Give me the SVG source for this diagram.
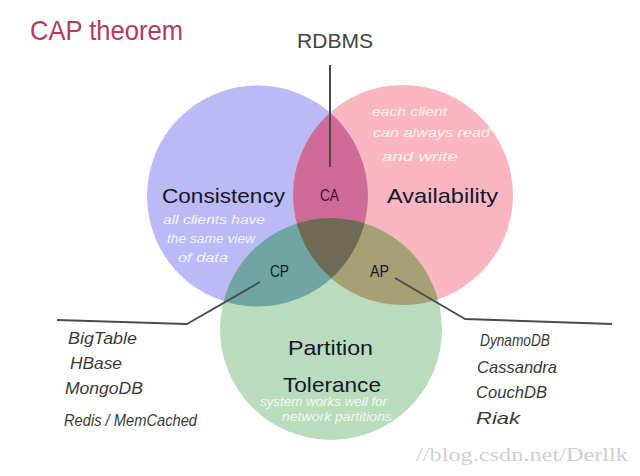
<svg xmlns="http://www.w3.org/2000/svg" width="640" height="476" viewBox="0 0 640 476">
<defs>
<style>
.lbl{font-family:"Liberation Sans","Noto Sans",sans-serif;fill:#161628;}
.big{font-size:21px;}
.sm{font-size:17px;}
.hw{font-family:"Liberation Sans","DejaVu Sans",sans-serif;fill:#ffffff;fill-opacity:0.85;font-size:12px;font-style:italic;}
.list{font-family:"Liberation Sans","DejaVu Sans",sans-serif;fill:#3a3a3a;font-size:17px;font-style:italic;}
.conn{fill:none;stroke:#4a4a4a;stroke-width:2;stroke-linejoin:round;}
</style>
<clipPath id="clipC"><circle cx="257.5" cy="196" r="110.5"/></clipPath>
<clipPath id="clipA"><circle cx="403" cy="195" r="110"/></clipPath>
</defs>
<rect width="640" height="476" fill="#ffffff"/>
<text x="30" y="40" font-family="Liberation Sans, sans-serif" font-size="28" fill="#b23a5e" textLength="153" lengthAdjust="spacingAndGlyphs">CAP  theorem</text>

<g id="consistency">
<circle cx="257.5" cy="196" r="110.5" fill="#bbbaf7"/>
</g>
<g id="availability">
<circle cx="403" cy="195" r="110" fill="#fbb7c1"/>
</g>
<g id="partition">
<circle cx="331" cy="329" r="111" fill="#b9dcbd"/>
</g>
<g id="ca">
<g clip-path="url(#clipC)"><circle cx="403" cy="195" r="110" fill="#cf6b99"/></g>
</g>
<g id="cp">
<g clip-path="url(#clipC)"><circle cx="331" cy="329" r="111" fill="#6fa5a3"/></g>
</g>
<g id="ap">
<g clip-path="url(#clipA)"><circle cx="331" cy="329" r="111" fill="#a6a175"/></g>
</g>
<g id="cap">
<g clip-path="url(#clipC)"><g clip-path="url(#clipA)"><circle cx="331" cy="329" r="111" fill="#6d6b53"/></g></g>
</g>

<g id="connectors">
<line class="conn" x1="330" y1="65" x2="330" y2="167"/>
<polyline class="conn" points="260,282 187,324 57,320"/>
<polyline class="conn" points="395,278 465,319 612,324"/>
</g>

<g id="labels">
<text class="lbl big" x="162" y="203" textLength="123" lengthAdjust="spacingAndGlyphs">Consistency</text>
<text class="lbl big" x="387" y="203" textLength="111" lengthAdjust="spacingAndGlyphs">Availability</text>
<text class="lbl sm" x="320" y="201" textLength="19" lengthAdjust="spacingAndGlyphs" style="fill:#3a1030">CA</text>
<text class="lbl sm" x="270" y="277" textLength="19" lengthAdjust="spacingAndGlyphs">CP</text>
<text class="lbl sm" x="370" y="277" textLength="19" lengthAdjust="spacingAndGlyphs">AP</text>
<text class="lbl big" x="288" y="355" textLength="85" lengthAdjust="spacingAndGlyphs">Partition</text>
<text class="lbl big" x="283" y="392" textLength="98" lengthAdjust="spacingAndGlyphs">Tolerance</text>
</g>

<g id="descriptions">
<text class="hw" x="163" y="224" textLength="102" lengthAdjust="spacingAndGlyphs">all clients have</text>
<text class="hw" x="167" y="243" textLength="88" lengthAdjust="spacingAndGlyphs">the same view</text>
<text class="hw" x="178" y="262" textLength="50" lengthAdjust="spacingAndGlyphs">of data</text>
<text class="hw" x="372" y="116" textLength="75" lengthAdjust="spacingAndGlyphs">each client</text>
<text class="hw" x="373" y="137" textLength="117" lengthAdjust="spacingAndGlyphs">can always read</text>
<text class="hw" x="382" y="161" textLength="76" lengthAdjust="spacingAndGlyphs">and write</text>
<text class="hw" x="260" y="406" textLength="127" lengthAdjust="spacingAndGlyphs">system works well for</text>
<text class="hw" x="282" y="421" textLength="110" lengthAdjust="spacingAndGlyphs">network partitions</text>
</g>

<g id="rdbms">
<text x="297" y="48" font-family="Liberation Sans, sans-serif" font-size="21" fill="#444" textLength="76" lengthAdjust="spacingAndGlyphs">RDBMS</text>
</g>

<g id="cp-list">
<text class="list" x="68" y="344" textLength="69" lengthAdjust="spacingAndGlyphs">BigTable</text>
<text class="list" x="70" y="369" textLength="52" lengthAdjust="spacingAndGlyphs">HBase</text>
<text class="list" x="65" y="394" textLength="78" lengthAdjust="spacingAndGlyphs">MongoDB</text>
<text class="list" x="64" y="426" font-size="19" textLength="133" lengthAdjust="spacingAndGlyphs">Redis / MemCached</text>
</g>

<g id="ap-list">
<text class="list" x="480" y="346" font-size="15" textLength="70" lengthAdjust="spacingAndGlyphs">DynamoDB</text>
<text class="list" x="477" y="373" textLength="80" lengthAdjust="spacingAndGlyphs">Cassandra</text>
<text class="list" x="476" y="398" textLength="71" lengthAdjust="spacingAndGlyphs">CouchDB</text>
<text class="list" x="476" y="424" textLength="44" lengthAdjust="spacingAndGlyphs">Riak</text>
</g>

<text x="416" y="461" font-family="Liberation Serif, serif" font-size="19" fill="#cfcfcf" textLength="212" lengthAdjust="spacingAndGlyphs">//blog.csdn.net/Derllk</text>
</svg>
